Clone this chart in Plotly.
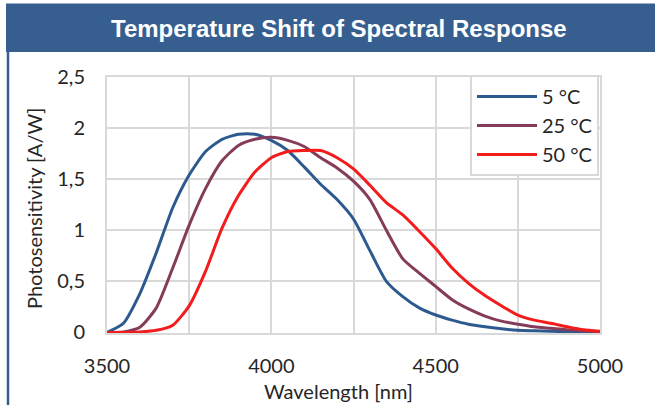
import plotly.graph_objects as go

# ---- data ----
wavelength = [3500, 3550, 3600, 3650, 3700, 3750, 3800, 3850, 3900, 3950,
              4000, 4050, 4100, 4150, 4200, 4250, 4300, 4350, 4400, 4450,
              4500, 4550, 4600, 4650, 4700, 4750, 4800, 4850, 4900, 4950, 5000]
resp_5c = [0, 0.09, 0.38, 0.78, 1.22, 1.54, 1.77, 1.89, 1.94, 1.94,
           1.88, 1.78, 1.62, 1.45, 1.30, 1.11, 0.80, 0.50, 0.35, 0.24,
           0.17, 0.12, 0.08, 0.055, 0.035, 0.02, 0.015, 0.01, 0.008, 0.004, 0]
resp_25c = [0, 0.005, 0.05, 0.24, 0.63, 1.05, 1.41, 1.68, 1.83, 1.89,
            1.91, 1.88, 1.82, 1.71, 1.61, 1.48, 1.30, 1.00, 0.72, 0.58,
            0.45, 0.32, 0.23, 0.16, 0.11, 0.08, 0.055, 0.04, 0.025, 0.015, 0.005]
resp_50c = [0, 0, 0.005, 0.02, 0.07, 0.26, 0.60, 1.02, 1.34, 1.57,
            1.71, 1.77, 1.78, 1.78, 1.71, 1.60, 1.44, 1.27, 1.15, 0.99,
            0.82, 0.63, 0.48, 0.36, 0.26, 0.17, 0.12, 0.09, 0.055, 0.025, 0.01]
series_names = ["5 °C", "25 °C", "50 °C"]
series_colors = ["#2d5a8e", "#843c5a", "#f21c1c"]

x_tickvals = [3500, 3750, 4000, 4250, 4500, 4750, 5000]
x_ticktext = ["3500", "", "4000", "", "4500", "", "5000"]
y_tickvals = [0, 0.5, 1, 1.5, 2, 2.5]
y_ticktext = ["0", "0,5", "1", "1,5", "2", "2,5"]

title_text = "Temperature Shift of Spectral Response"
x_title = "Wavelength [nm]"
y_title = "Photosensitivity [A/W]"

# ---- layout geometry (pixels) ----
W, H = 655, 405
L, R, T, B = 107, 600, 77, 333
pw, ph = R - L, B - T


def px(x):
    return (x - L) / pw


def py(y):
    return (B - y) / ph


FONT = "Lato, Carlito, Calibri, sans-serif"
TXT = "#262626"
GRID = "#d9d9d9"
BANNER = "#365f8f"

fig = go.Figure()
for name, vals, col in zip(series_names, [resp_5c, resp_25c, resp_50c], series_colors):
    fig.add_trace(go.Scatter(
        x=wavelength, y=vals, name=name, mode="lines",
        line=dict(color=col, width=3, shape="spline", smoothing=0.6),
    ))

fig.update_layout(
    width=W, height=H,
    margin=dict(l=L, r=W - R, t=T, b=H - B, pad=0),
    paper_bgcolor="white", plot_bgcolor="white",
    font=dict(family=FONT, size=20, color=TXT),
    showlegend=True,
    legend=dict(
        x=px(599), y=py(75), xanchor="right", yanchor="top",
        bgcolor="white", bordercolor=GRID, borderwidth=2,
        font=dict(family=FONT, size=20, color=TXT),
        itemwidth=60, tracegroupgap=0,
    ),
    xaxis=dict(
        range=[3500, 5000], tickvals=x_tickvals, ticktext=x_ticktext,
        showgrid=True, gridcolor=GRID, gridwidth=2,
        showline=True, linecolor=GRID, linewidth=2, mirror=True,
        zeroline=False, ticks="", ticklabelstandoff=14,
        tickfont=dict(family=FONT, size=20, color=TXT),
    ),
    yaxis=dict(
        range=[-0.006, 2.5], tickvals=y_tickvals, ticktext=y_ticktext,
        showgrid=True, gridcolor=GRID, gridwidth=2,
        showline=True, linecolor=GRID, linewidth=2, mirror=True,
        zeroline=False, ticks="", ticklabelstandoff=16,
        tickfont=dict(family=FONT, size=20, color=TXT),
    ),
    shapes=[
        dict(type="rect", xref="paper", yref="paper",
             x0=px(6), x1=px(660), y0=py(52), y1=py(3.5),
             fillcolor=BANNER, line=dict(width=0), layer="above"),
        dict(type="line", xref="paper", yref="paper",
             x0=px(8), x1=px(8), y0=py(52), y1=py(412),
             line=dict(color=BANNER, width=2.5), layer="above"),
    ],
    annotations=[
        dict(text=f"<b>{title_text}</b>", xref="paper", yref="paper",
             x=px(338.5), y=py(28), xanchor="center", yanchor="middle",
             showarrow=False,
             font=dict(family="Liberation Sans, Arial, sans-serif", size=24, color="white")),
        dict(text=x_title, xref="paper", yref="paper",
             x=px(338), y=py(391), xanchor="center", yanchor="middle",
             showarrow=False, font=dict(family=FONT, size=20, color=TXT)),
        dict(text=y_title, xref="paper", yref="paper",
             x=px(34), y=py(209), xanchor="center", yanchor="middle",
             textangle=-90, showarrow=False,
             font=dict(family=FONT, size=20, color=TXT)),
    ],
)

fig.write_html("out.html", config={"displayModeBar": False},
               post_script="document.body.style.margin='0';document.body.style.overflow='hidden';")
